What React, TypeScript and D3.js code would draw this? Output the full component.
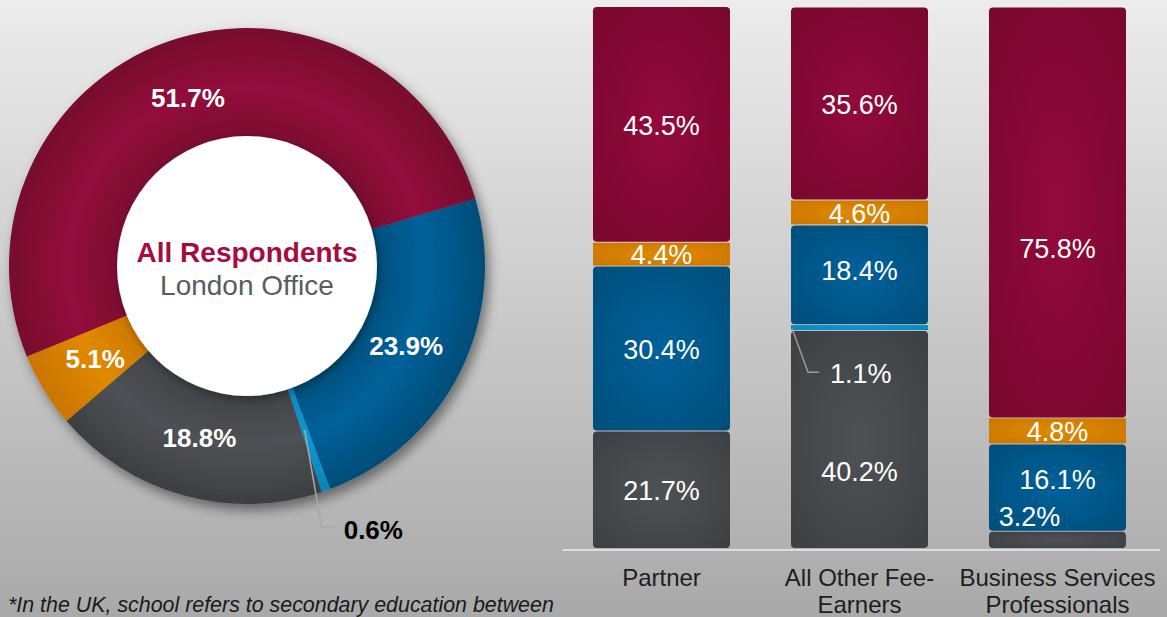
import React from 'react';
import * as d3 from 'd3';

// ---------- DATA ----------
const donutKeys = ['Blue', 'LightBlue', 'Gray', 'Orange', 'Red'];
const donutValues = [23.9, 0.6, 18.8, 5.1, 51.7];

const categories = ['Partner', 'All Other Fee-Earners', 'Business Services Professionals'];
const categoryLines = [['Partner'], ['All Other Fee-', 'Earners'], ['Business Services', 'Professionals']];

const stackKeys = ['Gray', 'LightBlue', 'Blue', 'Orange', 'Red'];
const grayValues = [21.7, 40.2, 3.2];
const lightBlueValues = [0, 1.1, 0];
const blueValues = [30.4, 18.4, 16.1];
const orangeValues = [4.4, 4.6, 4.8];
const redValues = [43.5, 35.6, 75.8];

const centerTitle = 'All Respondents';
const centerSubtitle = 'London Office';
const footnote = '*In the UK, school refers to secondary education between';

// ---------- STYLE ----------
const W = 1167;
const H = 617;
const FONT = "'Liberation Sans', Arial, sans-serif";

const palette: Record<string, { mid: string; edge: string }> = {
  Red: { mid: '#930a3b', edge: '#77072d' },
  Blue: { mid: '#00619a', edge: '#004d78' },
  Gray: { mid: '#4e5255', edge: '#3c3f41' },
  Orange: { mid: '#e08900', edge: '#c97500' },
  LightBlue: { mid: '#0b98d6', edge: '#0a84bb' },
};

// label nudges (layout only)
const barLabelNudge: Record<string, [number, number]> = {
  '1-Blue': [0, -5],
  '1-Gray': [0, 31],
  '2-Red': [0, 35],
  '2-Blue': [0, -9],
  '2-Gray': [-28, -24],
};

export default function App() {
  // donut
  const cx = 247, cy = 266, rOuter = 238, rInner = 130;
  const startA = (73.6 * Math.PI) / 180;
  const pie = d3.pie<number>().sort(null).value((d) => d).startAngle(startA).endAngle(startA + 2 * Math.PI);
  const arcs = pie(donutValues);
  const arcGen = d3.arc<d3.PieArcDatum<number>>().innerRadius(rInner - 2).outerRadius(rOuter);
  const labelArc = d3.arc<d3.PieArcDatum<number>>().innerRadius(178).outerRadius(178);
  const leaderArc = d3.arc<d3.PieArcDatum<number>>().innerRadius(174).outerRadius(174);

  // bars
  const rows = categories.map((c, i) => ({
    cat: c,
    Gray: grayValues[i],
    LightBlue: lightBlueValues[i],
    Blue: blueValues[i],
    Orange: orangeValues[i],
    Red: redValues[i],
  }));
  const stack = d3.stack<any>().keys(stackKeys);
  const series = stack(rows);
  const x = d3.scaleBand<string>().domain(categories).range([562.5, 1156.5]).paddingInner(0.308).paddingOuter(0.154);
  const y = d3.scaleLinear().domain([0, 100]).range([549, 7]);
  const bw = x.bandwidth();

  const barLabels: JSX.Element[] = [];
  series.forEach((s) => {
    s.forEach((d, i) => {
      const v = d[1] - d[0];
      if (v <= 0 || s.key === 'LightBlue') return;
      const nudge = barLabelNudge[`${i}-${s.key}`] || [0, 0];
      const xc = (x(categories[i]) as number) + bw / 2 + nudge[0];
      const yc = (y(d[0]) + y(d[1])) / 2 + nudge[1];
      barLabels.push(
        <text key={`bl-${s.key}-${i}`} x={xc} y={yc} dy="0.36em" textAnchor="middle" fill="#fff" fontSize={27} fontFamily={FONT}>
          {v.toFixed(1)}%
        </text>
      );
    });
  });

  // leader for 1.1%
  const lbSeries = series.find((s) => s.key === 'LightBlue')!;
  const lbIdx = 1;
  const lbD = lbSeries[lbIdx];
  const lbX0 = x(categories[lbIdx]) as number;
  const lbY = (y(lbD[0]) + y(lbD[1])) / 2;

  // leader for 0.6%
  const lbArc = arcs[1];
  const [lpx, lpy] = leaderArc.centroid(lbArc);

  return (
    <svg width={W} height={H} style={{ position: 'absolute', left: 0, top: 0 }} fontFamily={FONT}>
      <defs>
        <linearGradient id="bg" x1="0" y1="0" x2="0" y2="1">
          <stop offset="0" stopColor="#ececec" />
          <stop offset="1" stopColor="#a9a9a9" />
        </linearGradient>
        {Object.keys(palette).map((k) => (
          <radialGradient key={`rg-${k}`} id={`ring-${k}`} gradientUnits="userSpaceOnUse" cx={0} cy={0} r={rOuter}>
            <stop offset="0.5" stopColor={palette[k].edge} />
            <stop offset="0.75" stopColor={palette[k].mid} />
            <stop offset="1" stopColor={palette[k].edge} />
          </radialGradient>
        ))}
        {Object.keys(palette).map((k) => (
          <radialGradient key={`bg-${k}`} id={`bar-${k}`} cx="0.5" cy="0.5" r="0.75">
            <stop offset="0" stopColor={palette[k].mid} />
            <stop offset="1" stopColor={palette[k].edge} />
          </radialGradient>
        ))}
        <filter id="shadow" x="-20%" y="-20%" width="140%" height="140%">
          <feDropShadow dx="4" dy="6" stdDeviation="6" floodColor="#000" floodOpacity="0.45" />
        </filter>
        <filter id="shadowSoft" x="-20%" y="-20%" width="140%" height="140%">
          <feDropShadow dx="2" dy="3" stdDeviation="4" floodColor="#000" floodOpacity="0.35" />
        </filter>
      </defs>

      <rect x={0} y={0} width={W} height={H} fill="url(#bg)" />

      {/* donut */}
      <g transform={`translate(${cx},${cy})`}>
        <g filter="url(#shadow)">
          {arcs.map((a, i) => (
            <path key={`arc-${i}`} d={arcGen(a) || ''} fill={`url(#ring-${donutKeys[i]})`} />
          ))}
        </g>
        <circle r={rInner} fill="#fff" filter="url(#shadowSoft)" />
        {arcs.map((a, i) => {
          if (donutKeys[i] === 'LightBlue') return null;
          const [lx, ly] = labelArc.centroid(a);
          return (
            <text key={`dl-${i}`} x={lx} y={ly} dy="0.36em" textAnchor="middle" fill="#fff" fontWeight="bold" fontSize={26}>
              {donutValues[i].toFixed(1)}%
            </text>
          );
        })}
        <polyline
          points={`${lpx},${lpy} ${lpx + 17},${lpy + 97} ${lpx + 29},${lpy + 97}`}
          fill="none"
          stroke="#a8a8a8"
          strokeWidth={1.5}
        />
        <text x={lpx + 39} y={lpy + 99} dy="0.36em" fill="#000" fontWeight="bold" fontSize={26}>
          {donutValues[1].toFixed(1)}%
        </text>
        <text x={0} y={-14} dy="0.36em" textAnchor="middle" fill="#a50c40" fontWeight="bold" fontSize={28}>
          {centerTitle}
        </text>
        <text x={0} y={19} dy="0.36em" textAnchor="middle" fill="#5a5c5e" fontSize={28}>
          {centerSubtitle}
        </text>
      </g>

      {/* bars */}
      {series.map((s) =>
        s.map((d, i) => {
          const h = y(d[0]) - y(d[1]);
          if (h <= 0) return null;
          return (
            <rect
              key={`r-${s.key}-${i}`}
              x={x(categories[i])}
              y={y(d[1])}
              width={bw}
              height={Math.max(h - 1, 1)}
              rx={s.key === 'LightBlue' || s.key === 'Orange' ? 0 : 4}
              fill={`url(#bar-${s.key})`}
            />
          );
        })
      )}
      {barLabels}
      <polyline
        points={`${lbX0 + 1},${lbY} ${lbX0 + 17},${lbY + 44} ${lbX0 + 28},${lbY + 44}`}
        fill="none"
        stroke="#9a9a9a"
        strokeWidth={1.5}
      />
      <text x={lbX0 + 39} y={lbY + 45} dy="0.36em" fill="#fff" fontSize={27}>
        {lightBlueValues[lbIdx].toFixed(1)}%
      </text>

      {/* axis */}
      <line x1={x.range()[0]} x2={1160} y1={y(0) + 1} y2={y(0) + 1} stroke="#dedede" strokeWidth={2} />
      {categoryLines.map((lines, i) =>
        lines.map((t, j) => (
          <text
            key={`cl-${i}-${j}`}
            x={(x(categories[i]) as number) + bw / 2}
            y={586 + j * 27}
            textAnchor="middle"
            fill="#1e1e1e"
            fontSize={24}
          >
            {t}
          </text>
        ))
      )}

      <text x={8} y={612} fill="#1a1a1a" fontStyle="italic" fontSize={21.4}>
        {footnote}
      </text>
    </svg>
  );
}
